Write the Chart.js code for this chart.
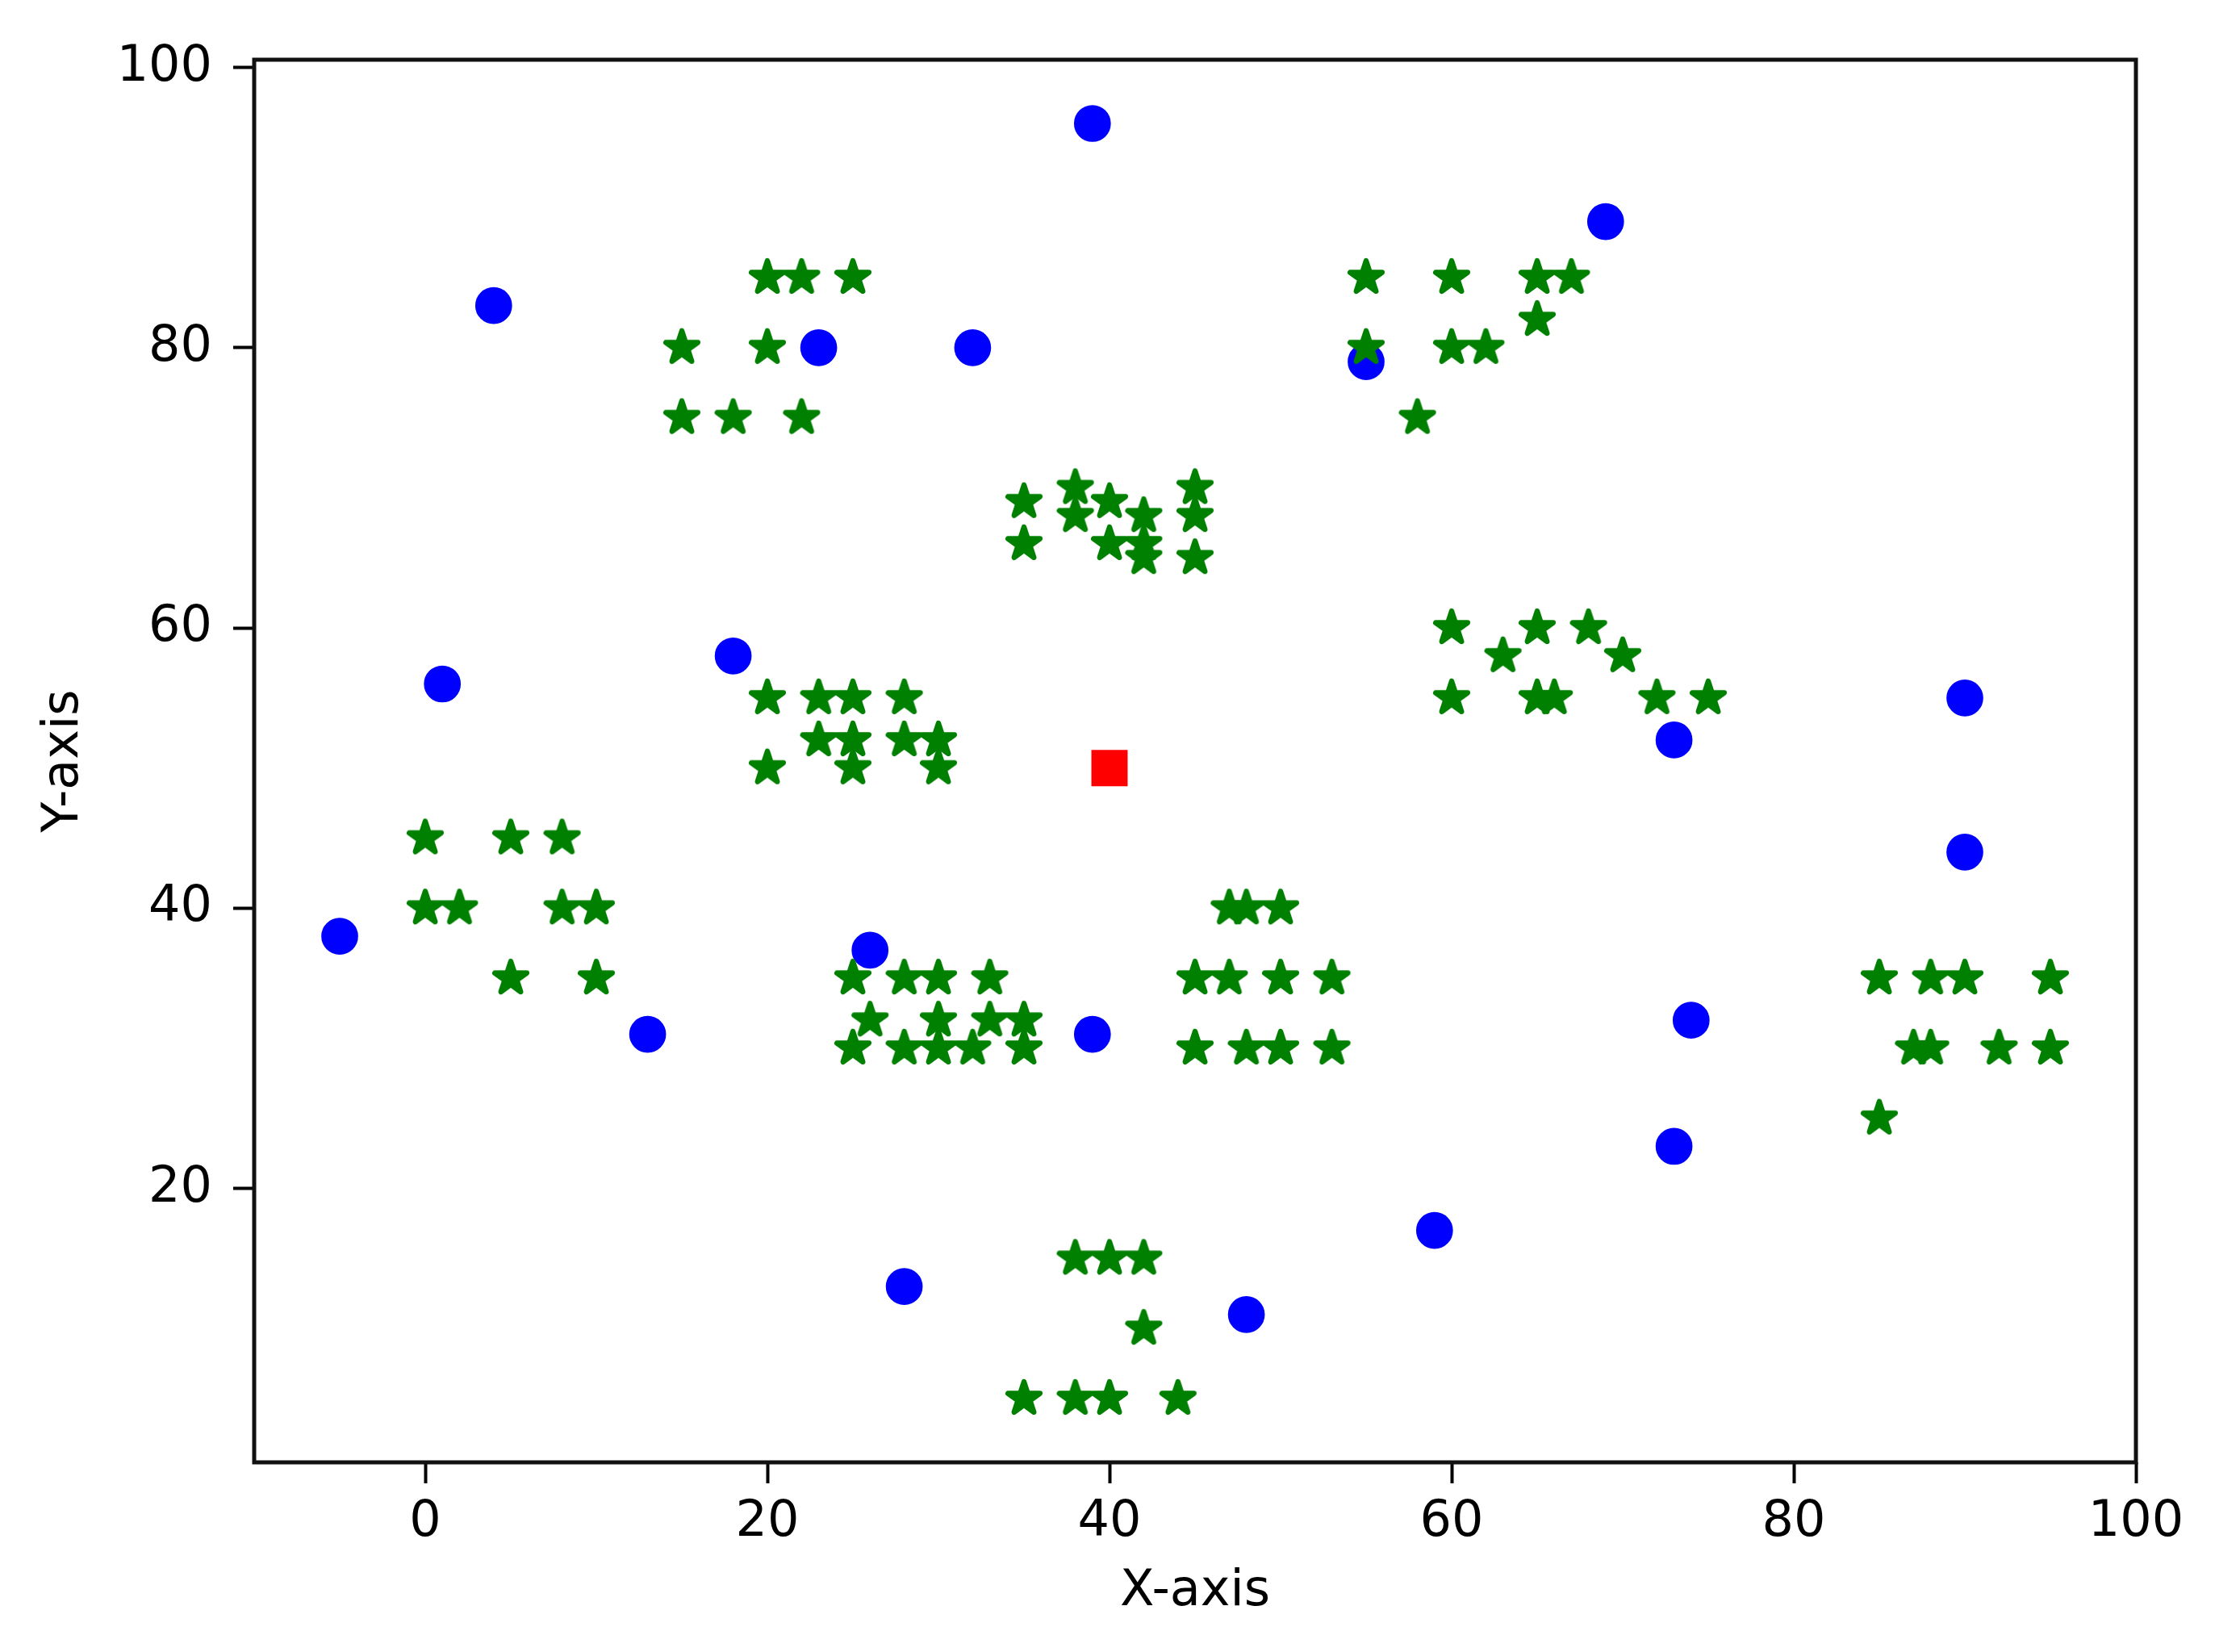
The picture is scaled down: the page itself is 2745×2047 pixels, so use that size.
<!DOCTYPE html>
<html>
<head>
<meta charset="utf-8">
<title>Scatter</title>
<script src="https://cdn.jsdelivr.net/npm/chart.js@4.4.1/dist/chart.umd.min.js"></script>
<style>
    html, body { margin: 0; padding: 0; background: #fff; }
    #wrap { width: 2745px; height: 2047px; }
</style>
</head>
<body>
<div id="wrap"><canvas id="chart" width="2745" height="2047"></canvas></div>
<script>
// blue circles
const circleX = [-5, 1, 4, 13, 18, 23, 26, 28, 32, 39, 39, 48, 55, 59, 69, 73, 73, 74, 90, 90];
const circleY = [38, 56, 83, 31, 58, 80, 37, 13, 80, 96, 31, 11, 79, 17, 89, 52, 23, 32, 55, 44];

// green stars
const starX = [
    20, 22, 25, 15, 20, 15, 18, 22,
    55, 60, 65, 67, 65, 55, 60, 62, 58,
    35, 35, 38, 38, 40, 40, 42, 42, 42, 45, 45, 45,
    20, 23, 25, 28, 23, 25, 28, 30, 20, 25, 30,
    0, 5, 8, 0, 2, 8, 10, 5, 10,
    25, 28, 30, 33, 26, 30, 33, 35, 25, 28, 30, 32, 35,
    47, 48, 50, 45, 47, 50, 53, 45, 48, 50, 53,
    38, 40, 42, 42, 35, 38, 40, 44,
    60, 65, 68, 63, 70, 60, 65, 66, 72, 75,
    85, 88, 90, 95, 87, 88, 92, 95, 85
];
const starY = [
    85, 85, 85, 80, 80, 75, 75, 75,
    85, 85, 85, 85, 82, 80, 80, 80, 75,
    69, 66, 70, 68, 69, 66, 68, 66, 65, 70, 68, 65,
    55, 55, 55, 55, 52, 52, 52, 52, 50, 50, 50,
    45, 45, 45, 40, 40, 40, 40, 35, 35,
    35, 35, 35, 35, 32, 32, 32, 32, 30, 30, 30, 30, 30,
    40, 40, 40, 35, 35, 35, 35, 30, 30, 30, 30,
    15, 15, 15, 10, 5, 5, 5, 5,
    60, 60, 60, 58, 58, 55, 55, 55, 55, 55,
    35, 35, 35, 35, 30, 30, 30, 30, 25
];

// red square
const targetX = [40];
const targetY = [50];

// axis ticks
const xTicks = [0, 20, 40, 60, 80, 100];
const yTicks = [20, 40, 60, 80, 100];

const toPoints = (xs, ys) => xs.map((x, i) => ({ x: x, y: ys[i] }));

// filled 5-point star, like matplotlib's '*'
function makeStar(color) {
    const size = 66;
    const c = document.createElement('canvas');
    c.width = size;
    c.height = size;
    const g = c.getContext('2d');
    const R = 20.8;
    const r = R * 0.381966;
    g.beginPath();
    for (let i = 0; i < 10; i++) {
        const rad = i % 2 === 0 ? R : r;
        const a = -Math.PI / 2 + i * Math.PI / 5;
        const px = size / 2 + rad * Math.cos(a);
        const py = size / 2 + rad * Math.sin(a);
        if (i === 0) g.moveTo(px, py); else g.lineTo(px, py);
    }
    g.closePath();
    g.fillStyle = color;
    g.fill();
    g.lineWidth = 6.5;
    g.lineJoin = 'round';
    g.strokeStyle = color;
    g.stroke();
    return c;
}

// axes box (all four spines)
const framePlugin = {
    id: 'frame',
    afterDatasetsDraw(chart) {
        const { ctx, chartArea: a } = chart;
        ctx.save();
        ctx.strokeStyle = '#111';
        ctx.lineWidth = 5;
        ctx.strokeRect(a.left, a.top, a.right - a.left, a.bottom - a.top);
        ctx.restore();
    }
};

const tickFont = { family: 'DejaVu Sans', size: 62 };

new Chart(document.getElementById('chart'), {
    type: 'scatter',
    data: {
        datasets: [
            {
                label: 'target',
                data: toPoints(targetX, targetY),
                pointStyle: 'rect',
                pointRadius: 27.5,
                backgroundColor: '#ff0000',
                borderColor: '#ff0000',
                borderWidth: 6,
                order: 0
            },
            {
                label: 'stars',
                data: toPoints(starX, starY),
                pointStyle: makeStar('#008000'),
                backgroundColor: '#008000',
                borderColor: '#008000',
                order: 1
            },
            {
                label: 'circles',
                data: toPoints(circleX, circleY),
                pointStyle: 'circle',
                pointRadius: 19.6,
                backgroundColor: '#0000ff',
                borderColor: '#0000ff',
                borderWidth: 6.5,
                order: 2
            }
        ]
    },
    options: {
        responsive: false,
        animation: false,
        devicePixelRatio: 1,
        layout: { padding: { top: 74, right: 98, bottom: 0, left: 0 } },
        plugins: {
            legend: { display: false },
            tooltip: { enabled: false }
        },
        scales: {
            x: {
                type: 'linear',
                min: -10,
                max: 100,
                afterBuildTicks: (scale) => { scale.ticks = xTicks.map(v => ({ value: v })); },
                afterFit: (scale) => { scale.height = 235; },
                border: { display: false },
                grid: {
                    drawOnChartArea: false,
                    drawTicks: true,
                    tickLength: 26,
                    tickWidth: 4,
                    tickColor: '#000'
                },
                ticks: { color: '#000', font: tickFont, padding: 12, maxRotation: 0 },
                title: {
                    display: true,
                    text: 'X-axis',
                    color: '#000',
                    font: tickFont,
                    padding: { top: 0, bottom: 37 }
                }
            },
            y: {
                type: 'linear',
                min: 0.45,
                max: 100.55,
                afterBuildTicks: (scale) => { scale.ticks = yTicks.map(v => ({ value: v })); },
                afterFit: (scale) => { scale.width = 315; },
                border: { display: false },
                grid: {
                    drawOnChartArea: false,
                    drawTicks: true,
                    tickLength: 26,
                    tickWidth: 4,
                    tickColor: '#000'
                },
                ticks: { color: '#000', font: tickFont, padding: 26 },
                title: {
                    display: true,
                    text: 'Y-axis',
                    color: '#000',
                    font: tickFont,
                    padding: { top: 43, bottom: 0 }
                }
            }
        }
    },
    plugins: [framePlugin]
});
</script>
</body>
</html>
